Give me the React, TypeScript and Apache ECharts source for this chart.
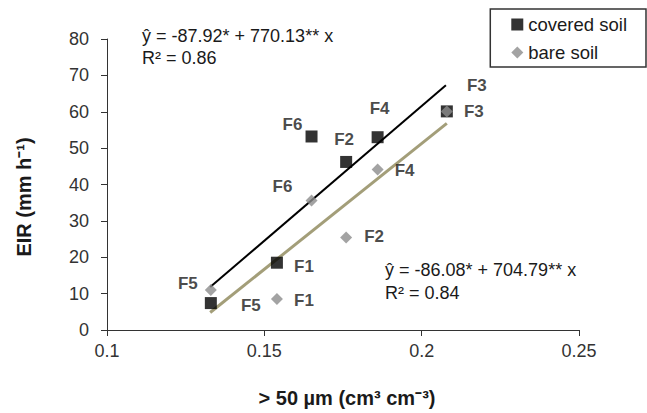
import React, { useEffect, useRef } from "react";
import * as echarts from "echarts";

const plots = ["F1", "F2", "F3", "F4", "F5", "F6"];
const coveredX = [0.154, 0.176, 0.208, 0.186, 0.133, 0.165];
const coveredY = [18.5, 46.2, 60.1, 53.0, 7.4, 53.2];
const bareX = [0.154, 0.176, 0.208, 0.186, 0.133, 0.165];
const bareY = [8.5, 25.4, 60.1, 44.1, 11.0, 35.6];
const coveredFitX = [0.1328, 0.2077];
const coveredFitY = [11.8, 67.3];
const bareFitX = [0.1328, 0.208];
const bareFitY = [4.8, 56.8];
const xTicks = { min: 0.1, max: 0.25, step: 0.05 };
const yTicks = { min: 0, max: 80, step: 10 };

// label offsets (layout only)
const coveredLabelOffset = [[27, 4], [-2, -22], [30, -26], [2, -29], [40, 2], [-19, -12]];
const bareLabelOffset = [[27, 1], [28, -1], [27, 0], [27, 1], [-23, -6], [-29, -14]];

const FONT = "'Liberation Sans', Arial, sans-serif";

export default function App() {
  const ref = useRef<HTMLDivElement>(null);
  useEffect(() => {
    if (!ref.current) return;
    const chart = echarts.init(ref.current, null, { renderer: "svg" });
    const labelStyle = {
      show: true,
      position: "inside",
      fontFamily: FONT,
      fontWeight: "bold",
      fontSize: 17,
      color: "#1a1a1a",
    };
    chart.setOption({
      animation: false,
      backgroundColor: "#fff",
      textStyle: { fontFamily: FONT },
      grid: { left: 107, right: 68, top: 39, bottom: 83, containLabel: false },
      legend: {
        orient: "vertical",
        right: 1,
        top: 9,
        padding: [6, 19, 5, 21],
        borderColor: "#333",
        borderWidth: 1.5,
        itemWidth: 12,
        itemHeight: 12,
        itemGap: 9,
        textStyle: { fontFamily: FONT, fontSize: 18.5, color: "#1a1a1a" },
        data: [
          { name: "covered soil", icon: "rect" },
          { name: "bare soil", icon: "diamond" },
        ],
      },
      xAxis: {
        type: "value",
        min: xTicks.min,
        max: xTicks.max,
        interval: xTicks.step,
        splitLine: { show: false },
        axisLine: { lineStyle: { color: "#333", width: 1 } },
        axisTick: { show: true, length: 6, lineStyle: { color: "#333" } },
        axisLabel: { fontFamily: FONT, fontSize: 18, color: "#333", margin: 12 },
      },
      yAxis: {
        type: "value",
        min: yTicks.min,
        max: yTicks.max,
        interval: yTicks.step,
        splitLine: { show: false },
        axisLine: { show: true, lineStyle: { color: "#333", width: 1 } },
        axisTick: { show: true, length: 6, lineStyle: { color: "#333" } },
        axisLabel: { fontFamily: FONT, fontSize: 18, color: "#333", margin: 18 },
      },
      graphic: [
        {
          type: "text",
          x: 142,
          y: 36,
          style: { text: "ŷ = -87.92* + 770.13** x", font: `18px ${FONT}`, fill: "#1a1a1a", verticalAlign: "middle" },
        },
        {
          type: "text",
          x: 142,
          y: 58,
          style: { text: "R² = 0.86", font: `18px ${FONT}`, fill: "#1a1a1a", verticalAlign: "middle" },
        },
        {
          type: "text",
          x: 385,
          y: 270,
          style: { text: "ŷ = -86.08* + 704.79** x", font: `18px ${FONT}`, fill: "#1a1a1a", verticalAlign: "middle" },
        },
        {
          type: "text",
          x: 385,
          y: 293,
          style: { text: "R² = 0.84", font: `18px ${FONT}`, fill: "#1a1a1a", verticalAlign: "middle" },
        },
        {
          type: "text",
          x: 347,
          y: 398,
          style: {
            text: "> 50 µm (cm³ cm⁻³)",
            font: `bold 20px ${FONT}`,
            fill: "#1a1a1a",
            align: "center",
            verticalAlign: "middle",
          },
        },
        {
          type: "text",
          x: 24,
          y: 197,
          rotation: Math.PI / 2,
          style: {
            text: "EIR (mm h⁻¹)",
            font: `bold 20px ${FONT}`,
            fill: "#1a1a1a",
            align: "center",
            verticalAlign: "middle",
          },
        },
      ],
      series: [
        {
          name: "fit covered",
          type: "line",
          symbol: "none",
          lineStyle: { color: "#000", width: 2 },
          data: coveredFitX.map((x, i) => [x, coveredFitY[i]]),
          z: 1,
        },
        {
          name: "fit bare",
          type: "line",
          symbol: "none",
          lineStyle: { color: "#a39e79", width: 3 },
          data: bareFitX.map((x, i) => [x, bareFitY[i]]),
          z: 1,
        },
        {
          name: "covered soil",
          type: "scatter",
          symbol: "rect",
          symbolSize: 12,
          itemStyle: { color: "#000" },
          z: 2,
          data: plots.map((p, i) => ({
            value: [coveredX[i], coveredY[i]],
            label: { ...labelStyle, formatter: p, offset: coveredLabelOffset[i] },
          })),
        },
        {
          name: "bare soil",
          type: "scatter",
          symbol: "diamond",
          symbolSize: 12,
          itemStyle: { color: "#8c8c8c" },
          z: 3,
          data: plots.map((p, i) => ({
            value: [bareX[i], bareY[i]],
            label: { ...labelStyle, formatter: p, offset: bareLabelOffset[i] },
          })),
        },
      ],
    });
    return () => chart.dispose();
  }, []);
  return <div ref={ref} style={{ width: 647, height: 413, position: "absolute", left: 0, top: 0 }} />;
}
